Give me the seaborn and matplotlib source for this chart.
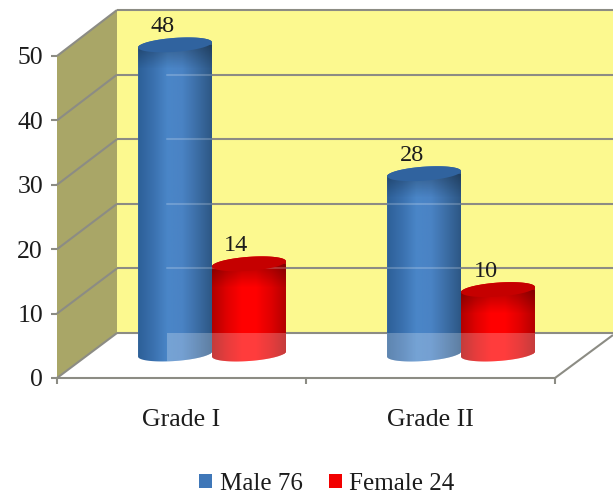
import numpy as np
import pandas as pd
import seaborn as sns
import matplotlib
matplotlib.use("Agg")
import matplotlib.pyplot as plt
from matplotlib.colors import LinearSegmentedColormap
from matplotlib.patches import Patch, Polygon, Rectangle

grades = ["Grade I", "Grade II"]
series_names = ["Male 76", "Female 24"]
male_counts = [48, 28]
female_counts = [14, 10]
y_ticks = [0, 10, 20, 30, 40, 50]

BLUE = "#3f77b8"
RED = "#f20000"
GREY = "#8c8c84"
WALL = "#fcf98f"
SIDE = "#a9a667"
INK = "#1c1c1c"
W, H = 613, 497

sns.set_theme(style="white")
plt.rcParams["font.family"] = ["Liberation Serif", "DejaVu Serif"]

df = pd.DataFrame({
    "Grade": grades * 2,
    "Count": male_counts + female_counts,
    "Sex": [series_names[0]] * 2 + [series_names[1]] * 2,
})

fig = plt.figure(figsize=(W / 100, H / 100), dpi=100, facecolor="white")


def frame(left, right, top, bottom):
    """Axes rectangle from pixel edges."""
    return [left / W, 1 - bottom / H, (right - left) / W, (bottom - top) / H]


# Room behind the columns: back wall, side wall and grid, in pixel units.
scene = fig.add_axes([0, 0, 1, 1], zorder=0)
scene.set_xlim(0, W)
scene.set_ylim(H, 0)
scene.axis("off")
scene.add_patch(Rectangle((117, 10), W - 117, 323, fc=WALL, ec="none"))
scene.add_patch(Polygon([(57, 56), (117, 10), (117, 333), (57, 378)], fc=SIDE, ec="none"))
grid_kw = dict(color=GREY, lw=1.5, solid_capstyle="butt")
for v in y_ticks:
    back_y = 333 - v * 6.46
    front_y = 378 - v * 6.44
    scene.plot([117, W], [back_y, back_y], **grid_kw)
    scene.plot([57, 117], [front_y, back_y], **grid_kw)
scene.plot([555, W], [378, 335], **grid_kw)

# Front plane of the chart, carrying the value axis and the category axis.
ax = fig.add_axes(frame(57, 555, 56, 378), zorder=1)
ax.patch.set_alpha(0)
ax.set_xlim(-0.5, 1.5)
ax.set_ylim(0, 50)
ax.set_yticks(y_ticks)
ax.set_xticks([-0.5, 0.5, 1.5])
ax.set_xticklabels([])
ax.set_xticks([0, 1], labels=grades, minor=True)
ax.tick_params(axis="y", which="major", left=True, length=4, width=1.5, color=GREY,
               labelsize=18.5, labelcolor=INK, pad=6)
ax.tick_params(axis="x", which="major", bottom=True, length=4.5, width=1.5, color=GREY)
ax.tick_params(axis="x", which="minor", bottom=False, length=0, labelsize=18.5,
               labelcolor=INK, pad=22)
for name, spine in ax.spines.items():
    spine.set_visible(name in ("left", "bottom"))
    spine.set_color(GREY)
    spine.set_linewidth(1.5)
ax.spines["left"].set_visible(False)

# Columns stand mid-way into the room: same value scale, offset up and right.
PX_Y = 6.44
base_px, low, high = 354, -3, 55
col_ax = fig.add_axes(frame(87.5, 585.5, base_px - high * PX_Y, base_px - low * PX_Y), zorder=2)
sns.barplot(data=df, x="Grade", y="Count", hue="Sex", hue_order=series_names,
            palette=[BLUE, RED], width=0.594, gap=0, saturation=1, legend=False,
            ax=col_ax)
col_ax.axis("off")
PX_X = 498 / 2

shades = {
    BLUE: LinearSegmentedColormap.from_list(
        "blue_column", ["#2d6098", "#3a70ae", "#4a86c8", "#4a83c4", "#3c6ea6", "#2d5785"]),
    RED: LinearSegmentedColormap.from_list(
        "red_column", ["#b20000", "#e00000", "#ff0000", "#ff0000", "#e00000", "#b40000"]),
}
caps = {BLUE: "#30639f", RED: "#c50000"}
shadow = np.zeros((32, 1, 4))
shadow[:, 0, 3] = np.linspace(0.28, 0, 32)
ramp = np.linspace(0, 1, 128).reshape(1, -1)


def rim(cx, level, half_w, start, stop):
    """Points of a tilted ellipse in data units, for the column ends."""
    t = np.linspace(start, stop, 60)
    a = half_w * PX_X
    dx = a * np.cos(t)
    dy = 7 * np.sin(t) + 0.07 * dx
    return np.column_stack([cx + dx / PX_X, level + dy / PX_Y])


order = [(c, p) for c, container in zip([BLUE, RED], col_ax.containers) for p in container]
for colour, bar in order:
    x0, w, top = bar.get_x(), bar.get_width(), bar.get_height()
    cx = x0 + w / 2
    side = np.vstack([rim(cx, 0, w / 2, np.pi, 2 * np.pi), rim(cx, top, w / 2, 0, np.pi)])
    body = Polygon(side, fc="none", ec="none", zorder=3)
    col_ax.add_patch(body)
    bar.set_clip_path(body)
    im = col_ax.imshow(ramp, cmap=shades[colour], extent=(x0, x0 + w, low, high),
                       aspect="auto", zorder=3)
    im.set_clip_path(body)
    shade = col_ax.imshow(shadow, extent=(x0, x0 + w, top - 24 / PX_Y, top),
                          aspect="auto", zorder=3)
    shade.set_clip_path(body)
    # Floor and grid seen faintly through the column.
    glaze = Rectangle((167, 333), W - 167, 45, fc="white", alpha=0.24, ec="none",
                      transform=scene.transData, zorder=3)
    col_ax.add_artist(glaze)
    glaze.set_clip_path(body)
    for v in y_ticks[1:]:
        gy = 333 - v * 6.46
        line = col_ax.plot([167, W], [gy, gy], color="white", alpha=0.2, lw=1.5,
                           transform=scene.transData, zorder=3)[0]
        line.set_clip_path(body)
    col_ax.add_patch(Polygon(rim(cx, top, w / 2, 0, 2 * np.pi), fc=caps[colour], ec="none", zorder=3))
    col_ax.annotate(f"{top:.0f}", (cx, top), xytext=(-9, 13), textcoords="offset points",
                    ha="center", va="center", fontsize=17.5, color=INK, zorder=4,
                    annotation_clip=False)
col_ax.set_xlim(-0.5, 1.5)
col_ax.set_ylim(low, high)

handles = [Patch(fc=BLUE, ec="none", label=series_names[0]),
           Patch(fc=RED, ec="none", label=series_names[1])]
fig.legend(handles=handles, loc="center", bbox_to_anchor=(327 / W, 1 - 484 / H), ncol=2,
           frameon=False, fontsize=18, handlelength=0.52, handleheight=0.52,
           handletextpad=0.3, columnspacing=1.05, labelcolor=INK, borderpad=0)

fig.savefig("out.png", dpi=100)
